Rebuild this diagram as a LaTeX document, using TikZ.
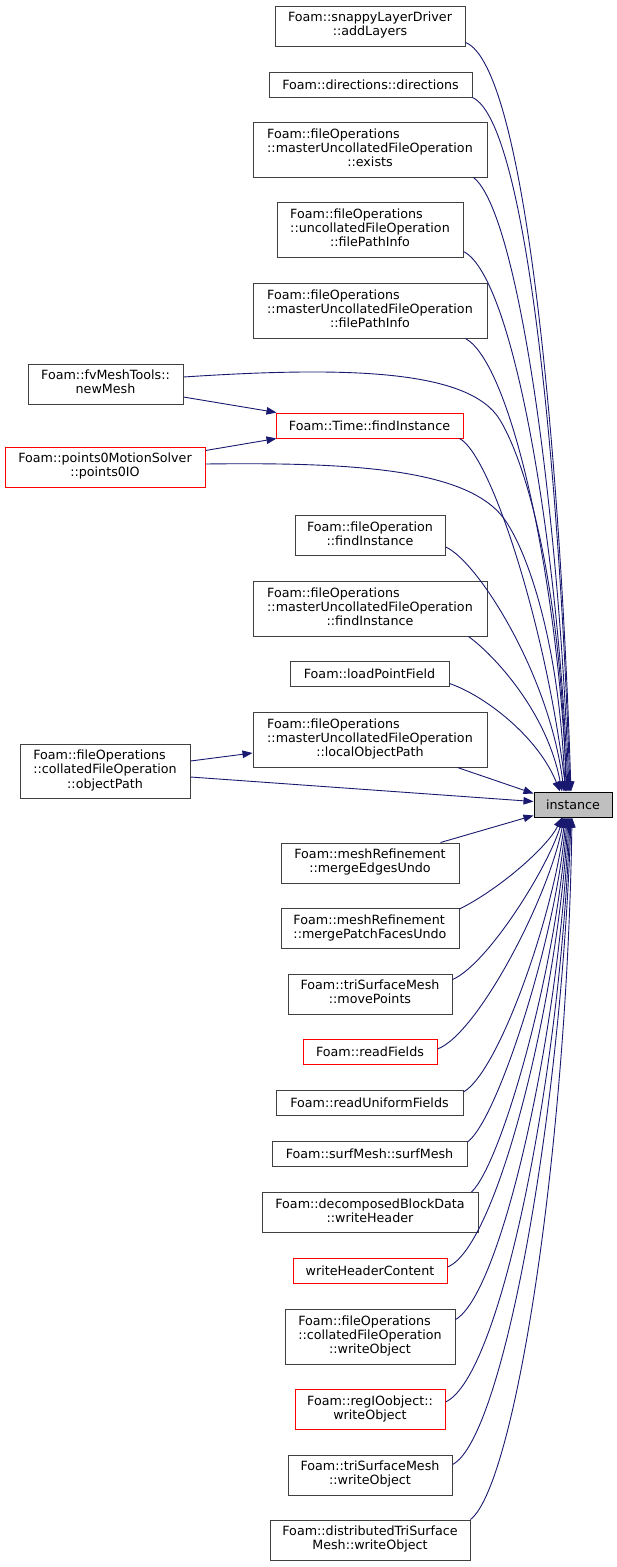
\documentclass[tikz,border=0pt]{standalone}
\usepackage{fontspec}
\setmainfont{DejaVu Sans}
\usetikzlibrary{arrows.meta,calc}
\definecolor{edgec}{HTML}{191970}
\definecolor{boxc}{HTML}{404040}
\definecolor{redc}{HTML}{FF0000}
\definecolor{instfill}{HTML}{BFBFBF}
\newcommand\LnTwo[2]{\begin{tabular}{@{}l@{}}#1\\\multicolumn{1}{@{}c@{}}{#2}\end{tabular}}
\newcommand\LnThree[3]{\begin{tabular}{@{}l@{}}#1\\#2\\\multicolumn{1}{@{}c@{}}{#3}\end{tabular}}
\begin{document}
\begin{tikzpicture}[x=1pt,y=-1pt,
 fn/.style={draw=boxc, line width=1pt, fill=white, inner sep=0pt, font=\fontsize{12.7}{14.2}\selectfont},
 fnred/.style={fn, draw=redc},
 edge/.style={draw=edgec, line width=0.9pt, -{Triangle[length=10pt,width=7.5pt]}},
]
\useasboundingbox[fill=white] (0,0) rectangle (617,1567);

% middle column
\node[fn, minimum width=190pt, minimum height=40pt] (addLayers) at (370,26) {\LnTwo{Foam::snappyLayerDriver}{::addLayers}};
\node[fn, minimum width=203pt, minimum height=25pt] (directions) at (370.5,84.5) {Foam::directions::directions};
\node[fn, minimum width=234pt, minimum height=55pt] (exists) at (370,149.5) {\LnThree{Foam::fileOperations}{::masterUncollatedFileOperation}{::exists}};
\node[fn, minimum width=186pt, minimum height=55pt] (ufpi) at (370,229.5) {\LnThree{Foam::fileOperations}{::uncollatedFileOperation}{::filePathInfo}};
\node[fn, minimum width=234pt, minimum height=55pt] (mfpi) at (370,310.5) {\LnThree{Foam::fileOperations}{::masterUncollatedFileOperation}{::filePathInfo}};
\node[fn, minimum width=155pt, minimum height=40pt] (newMesh) at (105.5,384) {\LnTwo{Foam::fvMeshTools::}{newMesh}};
\node[fnred, minimum width=187pt, minimum height=25pt] (timeFind) at (369.5,425.5) {Foam::Time::findInstance};
\node[fnred, minimum width=200pt, minimum height=40pt] (pointsIO) at (105,467) {\LnTwo{Foam::points0MotionSolver}{::points0IO}};
\node[fn, minimum width=150pt, minimum height=40pt] (foFind) at (370,535.5) {\LnTwo{Foam::fileOperation}{::findInstance}};
\node[fn, minimum width=234pt, minimum height=55pt] (mFind) at (370,608.5) {\LnThree{Foam::fileOperations}{::masterUncollatedFileOperation}{::findInstance}};
\node[fn, minimum width=159pt, minimum height=25pt] (loadPF) at (369.5,673.5) {Foam::loadPointField};
\node[fn, minimum width=234pt, minimum height=55pt] (localOP) at (370,739.5) {\LnThree{Foam::fileOperations}{::masterUncollatedFileOperation}{::localObjectPath}};
\node[fn, minimum width=170pt, minimum height=54pt] (objPath) at (105,771) {\LnThree{Foam::fileOperations}{::collatedFileOperation}{::objectPath}};
\node[fn, fill=instfill, draw=black, minimum width=78pt, minimum height=25pt] (inst) at (573,804.5) {instance};
\node[fn, minimum width=178pt, minimum height=40pt] (mergeE) at (370,863) {\LnTwo{Foam::meshRefinement}{::mergeEdgesUndo}};
\node[fn, minimum width=178pt, minimum height=40pt] (mergeP) at (370,928.5) {\LnTwo{Foam::meshRefinement}{::mergePatchFacesUndo}};
\node[fn, minimum width=164pt, minimum height=40pt] (movePts) at (370,994) {\LnTwo{Foam::triSurfaceMesh}{::movePoints}};
\node[fnred, minimum width=134pt, minimum height=25pt] (readF) at (370,1052) {Foam::readFields};
\node[fn, minimum width=187pt, minimum height=25pt] (readU) at (369.5,1103) {Foam::readUniformFields};
\node[fn, minimum width=195pt, minimum height=25pt] (surfM) at (369.5,1154) {Foam::surfMesh::surfMesh};
\node[fn, minimum width=216pt, minimum height=40pt] (writeH) at (370,1212.5) {\LnTwo{Foam::decomposedBlockData}{::writeHeader}};
\node[fnred, minimum width=154pt, minimum height=25pt] (writeHC) at (370,1271) {writeHeaderContent};
\node[fn, minimum width=170pt, minimum height=55pt] (collWO) at (370,1336.5) {\LnThree{Foam::fileOperations}{::collatedFileOperation}{::writeObject}};
\node[fnred, minimum width=150pt, minimum height=40pt] (regWO) at (370,1409.5) {\LnTwo{Foam::regIOobject::}{writeObject}};
\node[fn, minimum width=164pt, minimum height=40pt] (triWO) at (370,1475) {\LnTwo{Foam::triSurfaceMesh}{::writeObject}};
\node[fn, minimum width=200pt, minimum height=40pt] (distWO) at (370,1540) {\LnTwo{Foam::distributedTriSurface}{Mesh::writeObject}};

% edges from above
\draw[edge] ($(addLayers.south east)+(0,-4)$) .. controls +(60,23) and +(-11,-340) .. ($(inst.north)+(-2,0)$);
\draw[edge] (directions.south east) .. controls +(55,25) and +(-10,-310) .. ($(inst.north)+(-3,0)$);
\draw[edge] ($(exists.south east)+(-14,0)$) .. controls +(45,35) and +(-10,-280) .. ($(inst.north)+(-4,0)$);
\draw[edge] ($(ufpi.south east)+(0,-6)$) .. controls +(50,25) and +(-10,-250) .. ($(inst.north)+(-5,0)$);
\draw[edge] ($(mfpi.south east)+(-22,0)$) .. controls +(45,25) and +(-10,-220) .. ($(inst.north)+(-6,0)$);
\draw[edge] ($(newMesh.east)+(0,-7)$) .. controls (350,366) and (470,370) .. (500,420) .. controls (530,470) and (562,600) .. ($(inst.north)+(-7,0)$);
\draw[edge] ($(newMesh.east)+(0,13)$) -- ($(timeFind.north west)+(1,0)$);
\draw[edge] ($(pointsIO.north east)+(0,4)$) -- ($(timeFind.south west)+(1,0)$);
\draw[edge] ($(pointsIO.east)+(0,-3)$) .. controls (360,462) and (470,470) .. (505,520) .. controls (530,556) and (560,650) .. ($(inst.north)+(-8,0)$);
\draw[edge] ($(timeFind.south east)+(-4,0)$) .. controls +(30,15) and +(-21,-172) .. ($(inst.north)+(-7,0)$);
\draw[edge] ($(foFind.south east)+(0,-9)$) .. controls +(30,12) and +(-15,-120) .. ($(inst.north)+(-9,0)$);
\draw[edge] ($(mFind.south east)+(-19,0)$) .. controls +(25,18) and +(-15,-80) .. ($(inst.north)+(-11,0)$);
\draw[edge] ($(loadPF.south east)+(0,-3)$) .. controls +(35,12) and +(-22,-55) .. ($(inst.north)+(-13,0)$);
\draw[edge] ($(localOP.south east)+(-30,0)$) -- ($(inst.north west)+(0,2)$);
\draw[edge] ($(objPath.east)+(0,-10)$) -- ($(localOP.west)+(0,13.5)$);
\draw[edge] ($(objPath.east)+(0,6)$) -- ($(inst.west)+(0,-3)$);

% edges from below
\draw[edge] ($(mergeE.north east)+(-19,0)$) -- ($(inst.south west)+(0,-2)$);
\draw[edge] ($(mergeP.north east)+(0,1)$) .. controls +(40,-20) and +(-15,30) .. ($(inst.south)+(-11,0)$);
\draw[edge] ($(movePts.north east)+(0,6)$) .. controls +(35,-15) and +(-15,50) .. ($(inst.south)+(-10,0)$);
\draw[edge] ($(readF.east)+(0,-3)$) .. controls +(40,-15) and +(-15,80) .. ($(inst.south)+(-9,0)$);
\draw[edge] ($(readU.north east)+(0,2)$) .. controls +(35,-20) and +(-12,100) .. ($(inst.south)+(-8,0)$);
\draw[edge] ($(surfM.north east)+(0,1)$) .. controls +(30,-22) and +(-10,120) .. ($(inst.south)+(-7,0)$);
\draw[edge] ($(writeH.north east)+(-7,0)$) .. controls +(30,-28) and +(-10,150) .. ($(inst.south)+(-6,0)$);
\draw[edge] ($(writeHC.east)+(0,-4)$) .. controls +(50,-20) and +(-10,180) .. ($(inst.south)+(-5,0)$);
\draw[edge] ($(collWO.north east)+(0,11)$) .. controls +(45,-25) and +(-10,220) .. ($(inst.south)+(-4,0)$);
\draw[edge] ($(regWO.north east)+(0,13)$) .. controls +(55,-25) and +(-10,260) .. ($(inst.south)+(-3,0)$);
\draw[edge] ($(triWO.north east)+(0,10)$) .. controls +(50,-25) and +(-10,300) .. ($(inst.south)+(-2,0)$);
\draw[edge] (distWO.north east) .. controls +(45,-35) and +(-5,330) .. ($(inst.south)+(-1,0)$);
\end{tikzpicture}
\end{document}
